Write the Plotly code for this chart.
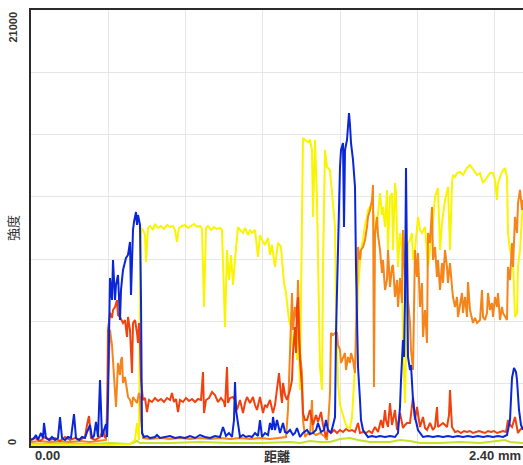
import plotly.graph_objects as go

# distance axis: detector sample index -> mm
FULL_SCALE_MM = 2.40
N_SAMPLES = 492
Y_MAX = 21000

x_tick_labels = ["0.00", "2.40 mm"]
x_title = "距離"
y_tick_labels = ["0", "21000"]
y_title = "強度"

blue_pos = [0,3,5,7,10,12,13,15,18,21,24,27,29,31,34,37,40,43,45,48,51,54,56,59,61,63,65,67,69,71,73,75,76,77,79,81,82,84,85,87,89,90,92,94,95,97,99,100,102,103,105,106,107,109,110,111,113,116,119,124,126,129,134,139,144,149,154,159,164,169,174,179,184,189,192,195,198,201,203,204,205,207,209,212,215,218,221,224,227,229,231,234,237,239,241,242,244,246,249,252,254,256,259,262,264,266,269,272,276,279,282,285,287,290,293,295,297,300,302,304,305,307,309,310,312,313,314,316,318,319,320,322,324,325,327,329,330,332,334,337,341,345,349,354,359,364,367,369,370,372,373,374,375,376,377,379,380,382,384,387,389,392,397,402,407,412,417,422,427,432,437,442,447,452,457,462,467,472,476,479,481,483,485,486,488,490,492]
blue_val = [290,385,530,290,626,385,1108,385,290,434,290,385,1397,385,290,434,385,1541,385,290,434,385,674,1012,385,482,1156,434,3179,434,771,1060,434,2216,8093,7033,8960,7033,7755,8237,6069,7514,8478,8863,9056,9200,9827,7274,10405,10790,11272,10646,11127,10646,7033,626,434,482,385,434,530,385,434,482,385,434,385,482,385,530,434,385,482,434,915,482,626,434,1252,3083,1734,1108,434,530,434,482,434,626,482,1252,434,626,530,1108,771,1397,771,1252,626,1108,674,626,771,530,626,867,434,626,771,578,626,771,1108,674,771,1252,771,626,1012,1397,5443,10260,13439,14258,14596,10549,14258,14740,16041,15463,14596,13777,12476,8622,3805,2216,1252,771,626,434,482,434,482,434,482,434,626,1879,3179,5106,4287,7033,13391,7033,4287,3661,3902,2216,1397,771,626,434,482,434,482,434,482,434,482,434,482,434,482,434,482,434,482,434,530,1252,3276,3757,3565,3179,1734,1012,771]

red_pos = [0,4,9,14,19,24,29,34,39,44,49,54,56,58,60,64,69,72,74,76,77,79,81,82,84,86,87,89,92,94,96,97,99,101,102,104,106,107,108,109,110,112,114,116,118,121,124,127,130,133,136,139,141,143,145,147,149,152,155,158,161,164,167,170,172,173,175,178,181,184,187,190,193,194,196,197,199,202,204,206,209,212,214,216,219,222,224,226,229,232,234,236,239,242,244,246,248,250,251,252,254,256,259,261,262,264,265,266,267,268,269,271,272,274,276,279,282,285,287,290,292,295,297,300,303,306,309,312,315,318,321,324,327,329,332,335,338,341,344,347,350,352,354,355,357,359,361,364,366,369,372,374,376,379,382,384,386,389,392,394,396,399,402,404,406,407,409,412,416,418,419,421,424,427,430,433,436,439,442,445,448,451,454,457,460,463,466,469,472,475,477,479,481,484,487,489,492]
red_val = [290,385,241,434,290,385,241,434,290,385,290,434,1012,1445,385,290,434,771,385,530,5588,6407,6166,6551,6696,7033,6310,6214,5925,6069,5251,6214,5588,3516,5925,6069,5443,4962,5925,4962,3179,2216,2312,1638,2216,2119,2312,2168,2264,2119,2312,2216,2553,2119,2264,1638,2216,2119,2312,2168,2264,2119,2264,2216,3565,1590,2216,2312,2601,2457,2119,2312,2119,1879,3805,2071,2312,2360,2216,1734,2216,1590,2071,2360,2071,2360,1975,1734,2360,1590,1975,1879,2216,1590,1975,2698,3516,2457,2071,3035,2457,2216,2698,3179,4480,5732,4480,6696,7177,5251,4143,2842,1590,1252,1252,1734,1012,1493,1156,1638,1012,434,771,626,771,626,771,674,819,723,771,674,1108,626,674,626,723,626,915,674,1252,867,1734,1252,915,2071,1012,1734,771,1590,867,1012,1108,1108,2360,1252,1879,915,1397,867,771,1108,771,915,1879,915,1012,1108,915,1493,2698,915,674,723,626,723,674,723,626,674,723,674,626,723,674,723,626,674,723,674,1252,1012,915,1397,626,771,915]

orange_pos = [0,9,19,29,39,49,59,69,75,77,79,81,82,84,85,87,89,90,91,92,94,96,97,99,101,102,104,106,108,109,110,112,119,129,139,149,159,169,179,189,199,209,219,229,239,249,255,257,259,261,262,264,266,267,269,271,272,274,277,279,281,282,285,289,293,296,298,299,300,302,304,306,307,309,310,312,314,315,317,319,320,322,324,325,326,327,329,330,332,334,336,337,339,341,342,343,344,346,347,349,351,352,354,356,357,359,361,362,364,366,367,369,371,372,374,376,377,379,380,382,384,386,387,389,391,392,394,396,397,399,401,402,404,406,407,409,411,412,414,416,417,419,421,422,424,426,427,429,431,432,434,436,437,439,441,442,444,446,449,451,452,454,456,457,459,461,462,464,466,467,469,471,472,474,476,477,479,481,482,484,486,487,489,491,492]
orange_val = [193,241,193,241,193,241,193,241,290,3179,5588,4865,3998,2842,1879,3998,3420,4143,4287,3035,3324,2698,2360,2216,1879,2360,2216,2071,2553,2360,1252,385,337,385,337,385,337,385,337,385,337,385,337,385,337,385,434,1734,4480,7370,5588,6696,6069,7996,4480,3516,1252,434,626,530,2216,626,530,626,482,290,1734,2553,5443,5347,5443,5443,4865,4624,3998,4287,4480,3661,4287,3998,4480,4143,3516,5588,7996,9586,8960,9441,9586,9923,10549,11031,11368,11850,12572,2842,10260,11031,10164,9441,8334,8960,7514,7996,9441,7659,8622,8719,7177,7996,6696,8093,6888,10405,8141,9779,7033,5925,4624,3661,9441,8141,9297,6696,7852,5251,6551,4962,10260,9779,11513,8960,9586,8141,8960,7514,8815,7852,9441,8622,7852,8815,7659,7177,6696,7177,6214,6888,7370,6407,7177,6214,7900,6551,6069,5925,6166,5925,6069,7514,6214,6069,6407,7370,6551,6888,6214,7177,6696,7370,6069,6696,6407,6214,6069,8622,7996,9779,8622,11031,10260,11705,12332,11368,11850]

yellow_pos = [0,19,39,59,79,99,104,106,108,109,110,112,114,115,117,119,122,124,127,130,133,136,139,142,144,146,148,151,154,157,160,163,166,169,171,173,175,177,180,183,186,189,191,193,194,196,198,200,202,204,206,207,209,212,214,217,219,221,224,227,229,231,234,237,239,241,244,246,247,250,253,255,256,258,260,262,264,266,267,269,270,272,274,277,279,281,282,284,286,288,289,291,292,294,296,299,302,304,305,306,307,309,311,314,316,319,321,324,326,327,329,330,332,334,336,337,339,340,342,345,347,349,351,352,354,356,357,359,361,362,364,365,366,367,369,371,372,374,376,377,379,381,382,384,387,389,391,394,397,399,401,404,407,409,411,414,417,419,421,422,424,426,429,432,434,436,439,442,444,446,449,452,454,456,459,462,464,466,467,469,471,474,476,477,479,482,484,486,487,489,491,492]
yellow_val = [48,48,48,48,48,96,290,1108,290,7033,10501,10405,10164,8863,10501,10597,10405,10694,10501,10597,10453,10646,10549,10597,10405,9827,10501,10597,10646,10501,10597,10694,10549,10597,10453,6696,10501,10597,10405,10549,10453,10501,10405,7033,5732,9441,7996,9200,7755,8960,9923,10549,10405,10260,10501,10164,10405,10260,10405,9104,10164,9923,9682,10019,9200,9682,8622,9441,9779,9586,7852,7370,6888,6069,5732,4624,5588,4143,6407,2698,7033,14836,14740,14644,14740,14258,11031,14740,11850,7033,3805,2698,8622,14258,13439,13295,11850,10549,7033,5443,3035,1975,1590,1156,915,867,1397,3805,5443,7514,8960,9441,9923,10646,11031,11368,11513,11513,11368,10260,11127,12187,11127,11513,10549,12332,9441,11994,12187,9441,12669,12187,10260,8622,10260,9441,4624,2071,7033,9779,9923,10260,8960,9441,11031,10405,10260,10549,8622,9441,10260,11994,12428,9441,10742,11850,12476,9441,12669,13054,12958,13150,13199,13054,13199,13391,13536,13295,13199,13054,13150,12669,12813,12958,13150,13150,12813,11850,12669,12958,13199,13391,12958,10260,9441,8960,6214,6407,8622,9441,11031,11850]

lime_pos = [0,29,59,79,99,106,109,139,169,199,229,259,269,279,289,299,309,319,327,339,359,369,379,389,409,429,449,469,474,479,492]
lime_val = [96,145,96,145,96,241,145,145,193,145,145,193,145,241,193,193,337,385,290,193,193,290,241,145,145,193,145,241,290,193,145]

series = [
    ("lime", lime_pos, lime_val, "#C2E22C"),
    ("yellow", yellow_pos, yellow_val, "#F9F400"),
    ("orange", orange_pos, orange_val, "#F5851A"),
    ("red", red_pos, red_val, "#F0420F"),
    ("blue", blue_pos, blue_val, "#0A26D6"),
]

mm_per_sample = FULL_SCALE_MM / N_SAMPLES

fig = go.Figure()
for name, pos, val, col in series:
    fig.add_trace(go.Scatter(
        x=[p * mm_per_sample for p in pos], y=val, mode="lines", name=name,
        line=dict(color=col, width=2), showlegend=False, hoverinfo="skip"))

axis_col = "#2b2b2b"
grid_col = "#E6E6E6"
fig.update_layout(
    width=523, height=465,
    margin=dict(l=31, r=0, t=10, b=19),
    paper_bgcolor="white", plot_bgcolor="white",
    xaxis=dict(range=[0, FULL_SCALE_MM], showgrid=True, gridcolor=grid_col, gridwidth=1,
               tick0=0, dtick=FULL_SCALE_MM * 77.3 / N_SAMPLES, showticklabels=False,
               showline=True, linecolor=axis_col, linewidth=2, mirror=True,
               zeroline=False, ticks=""),
    yaxis=dict(range=[0, Y_MAX], showgrid=True, gridcolor=grid_col, gridwidth=1,
               tick0=0, dtick=3000, showticklabels=False,
               showline=True, linecolor=axis_col, linewidth=2, mirror=False,
               zeroline=False, ticks=""),
)

font_lbl = dict(family="Arial", size=13, color="#333333")
font_y = dict(family="Arial", size=11, color="#333333")
ann = [
    dict(text="<b>%s</b>" % y_tick_labels[1], x=-0.0386, y=1.0, xref="paper", yref="paper",
         xanchor="center", yanchor="top", textangle=-90, showarrow=False, font=font_y),
    dict(text="<b>%s</b>" % y_tick_labels[0], x=-0.0386, y=0.009, xref="paper", yref="paper",
         xanchor="center", yanchor="middle", textangle=-90, showarrow=False, font=font_y),
    dict(text=y_title, x=-0.0386, y=0.5, xref="paper", yref="paper",
         xanchor="center", yanchor="middle", textangle=-90, showarrow=False,
         font=dict(family="Noto Sans CJK JP", size=13, color="#333333")),
    dict(text="<b>%s</b>" % x_tick_labels[0], x=0.004, y=-0.0229, xref="paper", yref="paper",
         xanchor="left", yanchor="middle", showarrow=False, font=font_lbl),
    dict(text="<b>%s</b>" % x_title, x=0.5, y=-0.0229, xref="paper", yref="paper",
         xanchor="center", yanchor="middle", showarrow=False,
         font=dict(family="Noto Sans CJK JP", size=13, color="#333333")),
    dict(text="<b>%s</b>" % x_tick_labels[1], x=1.0, y=-0.0229, xref="paper", yref="paper",
         xanchor="right", yanchor="middle", showarrow=False, font=font_lbl),
]
fig.update_layout(annotations=ann)

fig.write_html("out.html")
